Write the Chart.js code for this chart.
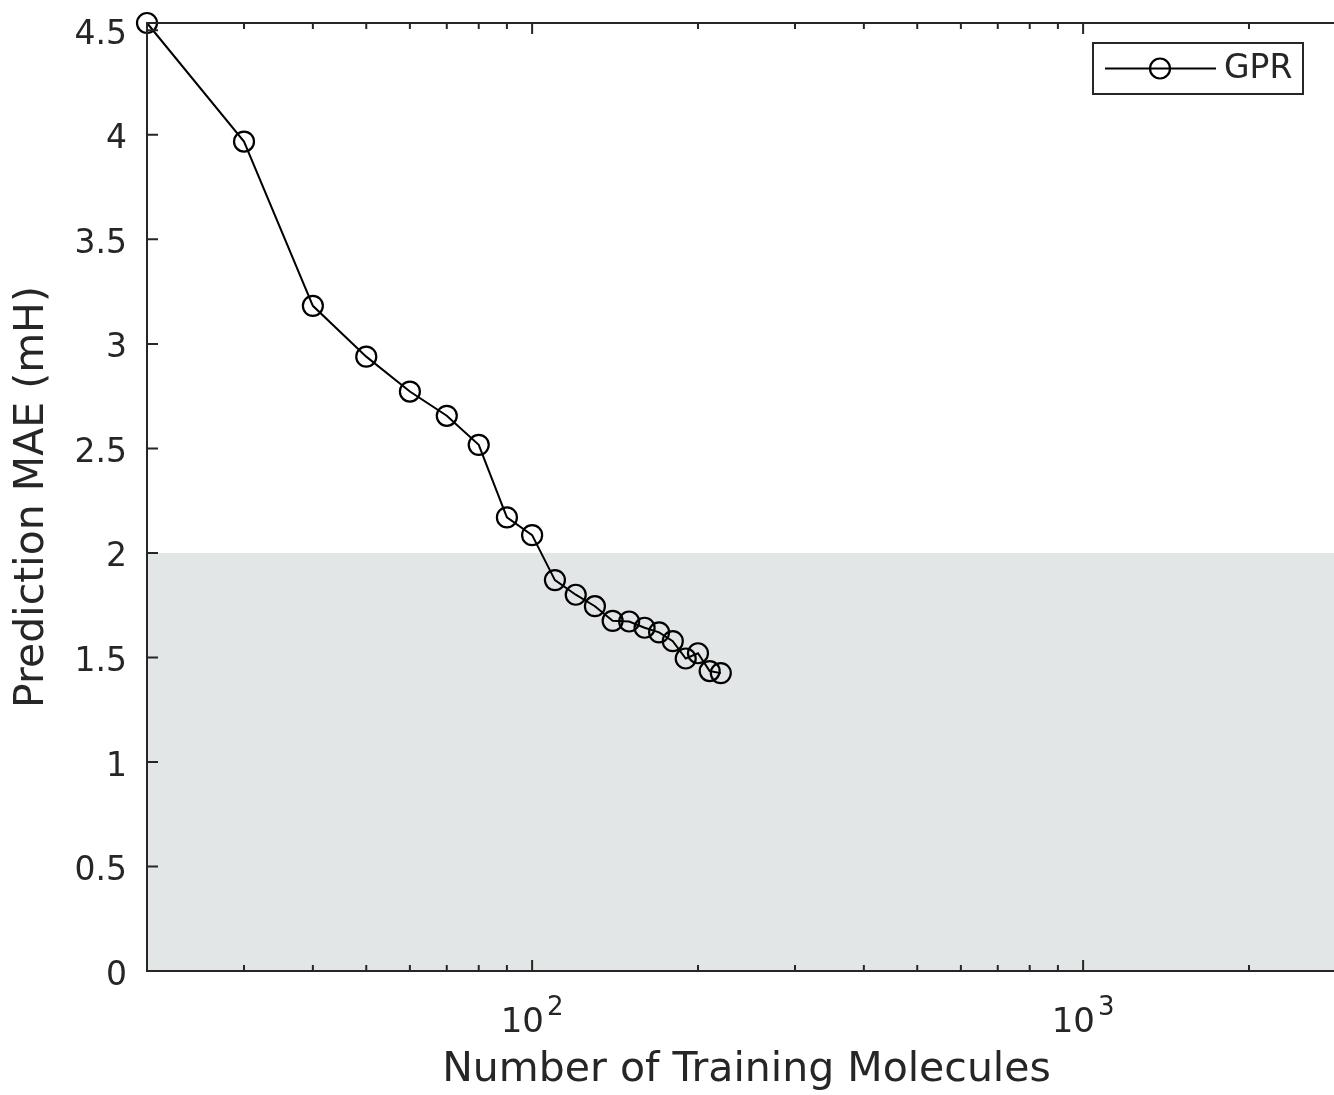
<!DOCTYPE html>
<html>
<head>
<meta charset="utf-8">
<title>GPR learning curve</title>
<script src="https://cdn.jsdelivr.net/npm/chart.js@4.4.1/dist/chart.umd.min.js"></script>
<style>
  html, body { margin: 0; padding: 0; background: #fff; overflow: hidden; }
  #wrap { width: 1360px; height: 1095px; }
</style>
</head>
<body>
<div id="wrap"><canvas id="chart" width="1360" height="1095"></canvas></div>
<script>
// training-set sizes and the resulting MAE
const trainCounts = [20, 30, 40, 50, 60, 70, 80, 90, 100, 110, 120, 130, 140, 150, 160, 170, 180, 190, 200, 210, 220];
const maeValues = [4.535, 3.968, 3.182, 2.939, 2.772, 2.656, 2.517, 2.17, 2.085, 1.87, 1.80, 1.745, 1.675, 1.672, 1.642, 1.62, 1.578, 1.495, 1.52, 1.435, 1.425];

// axes
const xRange = [20, 3000];
const yRange = [0, 4.535];
const yTickValues = [0, 0.5, 1, 1.5, 2, 2.5, 3, 3.5, 4, 4.5];
const xMajorTicks = [100, 1000];
const xMinorTicks = [30, 40, 50, 60, 70, 80, 90, 200, 300, 400, 500, 600, 700, 800, 900, 2000, 3000];

// shaded target band (MAE below 2 mH)
const bandLimits = [0, 2];

const INK = '#262626';
const FONT = 'DejaVu Sans';

// no extra room for half tick labels at the ends of the axes
const noEdgePadding = s => {
  s.paddingTop = 0; s.paddingBottom = 0; s.paddingLeft = 0; s.paddingRight = 0;
};

// box around the plot with inward tick marks on all four sides
const axesBox = {
  id: 'axesBox',
  afterDraw(chart) {
    const { ctx, chartArea: a, scales: { x, y } } = chart;
    ctx.save();
    ctx.strokeStyle = INK;
    ctx.lineWidth = 2;
    ctx.strokeRect(a.left, a.top, a.right - a.left, a.bottom - a.top);
    ctx.beginPath();
    const tickX = (v, len) => {
      const px = x.getPixelForValue(v);
      ctx.moveTo(px, a.bottom); ctx.lineTo(px, a.bottom - len);
      ctx.moveTo(px, a.top); ctx.lineTo(px, a.top + len);
    };
    xMajorTicks.forEach(v => tickX(v, 11));
    xMinorTicks.forEach(v => tickX(v, 6));
    yTickValues.forEach(v => {
      const py = y.getPixelForValue(v);
      ctx.moveTo(a.left, py); ctx.lineTo(a.left + 11, py);
      ctx.moveTo(a.right, py); ctx.lineTo(a.right - 11, py);
    });
    ctx.stroke();

    // decade labels as 10 with a raised exponent
    ctx.fillStyle = INK;
    ctx.textBaseline = 'alphabetic';
    xMajorTicks.forEach(v => {
      const px = x.getPixelForValue(v);
      const base = '10';
      const exp = String(Math.round(Math.log10(v)));
      ctx.font = `34px "${FONT}"`;
      const wb = ctx.measureText(base).width;
      ctx.font = `26px "${FONT}"`;
      const we = ctx.measureText(exp).width;
      const gap = 3;
      const start = px - (wb + gap + we) / 2;
      ctx.font = `34px "${FONT}"`;
      ctx.fillText(base, start, a.bottom + 61);
      ctx.font = `26px "${FONT}"`;
      ctx.fillText(exp, start + wb + gap, a.bottom + 44);
    });
    ctx.restore();
  }
};

// legend box in the upper right corner of the plot
const cornerLegend = {
  id: 'cornerLegend',
  afterDraw(chart) {
    const { ctx, chartArea: a } = chart;
    const ds = chart.data.datasets.find(d => d.label);
    const x0 = a.right - 253, y0 = a.top + 20, w = 210, h = 51;
    const cy = y0 + h / 2;
    ctx.save();
    ctx.fillStyle = '#fff';
    ctx.fillRect(x0, y0, w, h);
    ctx.strokeStyle = INK;
    ctx.lineWidth = 2;
    ctx.strokeRect(x0, y0, w, h);
    ctx.strokeStyle = ds.borderColor;
    ctx.lineWidth = ds.borderWidth;
    ctx.beginPath();
    ctx.moveTo(x0 + 12, cy); ctx.lineTo(x0 + 123, cy);
    ctx.stroke();
    ctx.lineWidth = ds.pointBorderWidth;
    ctx.beginPath();
    ctx.arc(x0 + 67, cy, ds.pointRadius, 0, Math.PI * 2);
    ctx.stroke();
    ctx.fillStyle = INK;
    ctx.font = `33px "${FONT}"`;
    ctx.textBaseline = 'middle';
    ctx.fillText(ds.label, x0 + 131, cy + 1);
    ctx.restore();
  }
};

new Chart(document.getElementById('chart'), {
  type: 'line',
  data: {
    datasets: [
      {
        data: [{ x: xRange[0], y: bandLimits[1] }, { x: xRange[1], y: bandLimits[1] }],
        fill: { value: bandLimits[0] },
        backgroundColor: '#e3e6e6',
        borderWidth: 0,
        pointRadius: 0,
        order: 2
      },
      {
        label: 'GPR',
        data: trainCounts.map((n, i) => ({ x: n, y: maeValues[i] })),
        borderColor: '#000',
        borderWidth: 2,
        pointRadius: 10,
        pointBorderWidth: 2.2,
        pointBorderColor: '#000',
        pointBackgroundColor: 'rgba(0,0,0,0)',
        fill: false,
        tension: 0,
        clip: false,
        order: 1
      }
    ]
  },
  options: {
    responsive: false,
    animation: false,
    devicePixelRatio: 1,
    layout: { padding: { left: 0, right: 14, top: 23, bottom: 0 } },
    plugins: {
      legend: { display: false },
      tooltip: { enabled: false }
    },
    scales: {
      x: {
        type: 'logarithmic',
        min: xRange[0],
        max: xRange[1],
        afterBuildTicks: s => { s.ticks = xMajorTicks.map(v => ({ value: v, major: true })); },
        afterFit: s => { s.height = 124; noEdgePadding(s); },
        grid: { display: false, drawTicks: false },
        border: { display: false },
        ticks: { display: false },
        title: {
          display: true,
          text: 'Number of Training Molecules',
          color: INK,
          font: { family: FONT, size: 41 },
          padding: { top: 0, bottom: 0 }
        }
      },
      y: {
        type: 'linear',
        min: yRange[0],
        max: yRange[1],
        afterBuildTicks: s => { s.ticks = yTickValues.map(v => ({ value: v })); },
        afterFit: s => { s.width = 147; noEdgePadding(s); },
        grid: { display: false, drawTicks: false },
        border: { display: false },
        ticks: {
          color: INK,
          font: { family: FONT, size: 33 },
          padding: 20,
          labelOffset: 5,
          callback: v => String(v)
        },
        title: {
          display: true,
          text: 'Prediction MAE (mH)',
          color: INK,
          font: { family: FONT, size: 41 },
          padding: { top: 8, bottom: 0 }
        }
      }
    }
  },
  plugins: [axesBox, cornerLegend]
});
</script>
</body>
</html>
